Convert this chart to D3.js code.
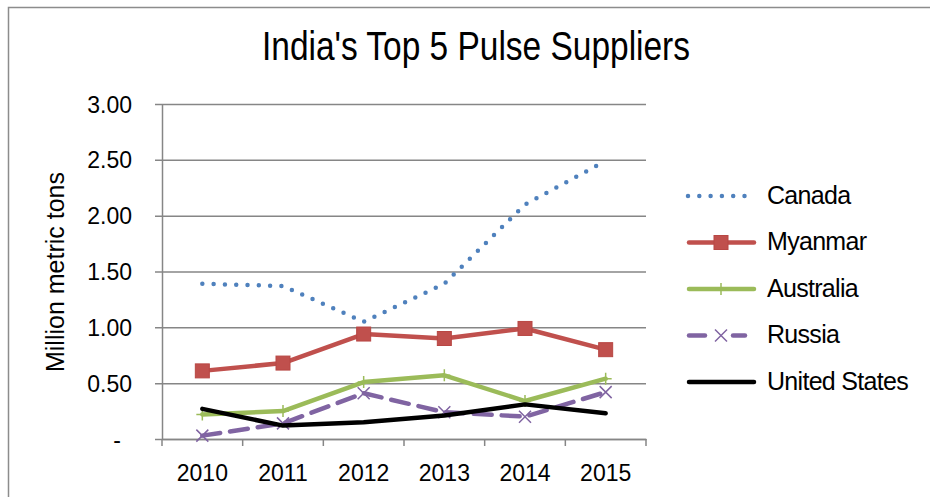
<!DOCTYPE html>
<html><head><meta charset="utf-8">
<script src="https://cdn.jsdelivr.net/npm/d3@7"></script>
<style>
html,body{margin:0;padding:0;background:#fff;}
svg{display:block;font-family:"Liberation Sans",Arial,sans-serif;}
</style></head>
<body>
<svg id="chart" width="930" height="497"></svg>
<script>
const years = ["2010","2011","2012","2013","2014","2015"];
const yTicks = [0, 0.5, 1, 1.5, 2, 2.5, 3];
const seriesNames = ["Canada","Myanmar","Australia","Russia","United States"];
const canada = [1.39, 1.37, 1.05, 1.39, 2.10, 2.49];
const myanmar = [0.61, 0.68, 0.94, 0.90, 0.99, 0.80];
const australia = [0.22, 0.25, 0.51, 0.57, 0.34, 0.54];
const russia = [0.03, 0.14, 0.41, 0.24, 0.20, 0.42];
const unitedStates = [0.27, 0.12, 0.15, 0.21, 0.31, 0.23];
const seriesColors = ["#4F81BD","#C0504D","#9BBB59","#8064A2","#000000"];

const series = [
  {name: seriesNames[0], values: canada, color: seriesColors[0], dash: "0 11.3", marker: null},
  {name: seriesNames[1], values: myanmar, color: seriesColors[1], dash: null, marker: "square"},
  {name: seriesNames[2], values: australia, color: seriesColors[2], dash: null, marker: "plus"},
  {name: seriesNames[3], values: russia, color: seriesColors[3], dash: "18 10", marker: "x"},
  {name: seriesNames[4], values: unitedStates, color: seriesColors[4], dash: null, marker: null}
];

const svg = d3.select("#chart");
// chart border
svg.append("path").attr("d","M8.5,497 L8.5,7.5 L930,7.5").attr("fill","none").attr("stroke","#8c8c8c").attr("stroke-width",1.5);

const pLeft = 162, pRight = 646, pTop = 104, pBottom = 439;
const x = d3.scaleBand().domain(years).range([pLeft, pRight]);
const y = d3.scaleLinear().domain([0, 3]).range([pBottom, pTop]);

// title
svg.append("text").attr("x", 476).attr("y", 60).attr("text-anchor","middle")
  .attr("font-size", 40).attr("textLength", 428).attr("lengthAdjust","spacingAndGlyphs")
  .attr("fill","#000").text("India's Top 5 Pulse Suppliers");

// gridlines + y axis
const yAxis = d3.axisLeft(y).tickValues(yTicks).tickSize(-(pRight - pLeft)).tickSizeOuter(0)
  .tickFormat(d => d === 0 ? "-" : d3.format(".2f")(d));
const gy = svg.append("g").attr("transform", `translate(${pLeft},0)`).call(yAxis);
gy.select(".domain").attr("stroke","#868686").attr("stroke-width",1.5);
gy.selectAll(".tick line").attr("stroke","#868686").attr("stroke-width",1.5).attr("x1",-7);
gy.selectAll(".tick text").attr("font-size",23).attr("fill","#000").attr("font-family","Liberation Sans, Arial, sans-serif")
  .attr("x", d => d === 0 ? -41 : -30).attr("dy","0.35em");

// x axis
const xAxis = d3.axisBottom(x).tickSize(0).tickSizeOuter(0);
const gx = svg.append("g").attr("transform", `translate(0,${pBottom})`).call(xAxis);
gx.select(".domain").attr("stroke","#868686").attr("stroke-width",1.5);
gx.selectAll(".tick text").attr("font-size",23).attr("fill","#000").attr("font-family","Liberation Sans, Arial, sans-serif").attr("y",26).attr("dy","0.71em");
// boundary ticks
const bounds = years.map(d => x(d)).concat([x(years[years.length-1]) + x.bandwidth()]);
gx.selectAll("line.bt").data(bounds).enter().append("line").attr("class","bt")
  .attr("x1", d => d).attr("x2", d => d).attr("y1", 0).attr("y2", 7)
  .attr("stroke","#868686").attr("stroke-width",1.5);

// y axis title
svg.append("text").attr("transform","translate(64,272) rotate(-90)").attr("text-anchor","middle")
  .attr("font-size",25).attr("fill","#000").text("Million metric tons");

const cx = d => x(d) + x.bandwidth()/2;
const line = d3.line().x((d,i) => cx(years[i])).y(d => y(d));

function drawMarker(g, type, color, px, py) {
  if (type === "square") {
    g.append("rect").attr("x", px-7).attr("y", py-7).attr("width",14).attr("height",14)
      .attr("fill", color).attr("stroke","#b84744").attr("stroke-width",1);
  } else if (type === "plus") {
    g.append("path").attr("d", `M${px-6},${py} L${px+6},${py} M${px},${py-6} L${px},${py+6}`)
      .attr("stroke", color).attr("stroke-width",1.5).attr("fill","none");
  } else if (type === "x") {
    g.append("path").attr("d", `M${px-6},${py-6} L${px+6},${py+6} M${px+6},${py-6} L${px-6},${py+6}`)
      .attr("stroke", color).attr("stroke-width",1.5).attr("fill","none");
  }
}

series.forEach(s => {
  const g = svg.append("g");
  g.append("path").datum(s.values).attr("d", line).attr("fill","none")
    .attr("stroke", s.color).attr("stroke-width", 4.5)
    .attr("stroke-linecap","round").attr("stroke-linejoin","round")
    .attr("stroke-dasharray", s.dash);
  if (s.marker) s.values.forEach((v,i) => drawMarker(g, s.marker, s.color, cx(years[i]), y(v)));
});

// legend
const legY = d3.scalePoint().domain(seriesNames).range([196, 382]);
series.forEach(s => {
  const ly = legY(s.name);
  const g = svg.append("g");
  if (s.dash === "0 11.3") {
    g.append("line").attr("x1",688).attr("x2",746).attr("y1",ly).attr("y2",ly)
      .attr("stroke", s.color).attr("stroke-width",4.5).attr("stroke-linecap","round").attr("stroke-dasharray", s.dash);
  } else if (s.marker === "x") {
    g.append("line").attr("x1",689).attr("x2",705).attr("y1",ly).attr("y2",ly)
      .attr("stroke", s.color).attr("stroke-width",4.5).attr("stroke-linecap","round");
    g.append("line").attr("x1",733).attr("x2",745).attr("y1",ly).attr("y2",ly)
      .attr("stroke", s.color).attr("stroke-width",4.5).attr("stroke-linecap","round");
    drawMarker(g, "x", s.color, 721, ly);
  } else {
    g.append("line").attr("x1",689).attr("x2",754).attr("y1",ly).attr("y2",ly)
      .attr("stroke", s.color).attr("stroke-width",4.5).attr("stroke-linecap","round");
    if (s.marker) drawMarker(g, s.marker, s.color, 721, ly);
  }
  g.append("text").attr("x",767).attr("y",ly+7.5).attr("font-size",25).attr("letter-spacing","-0.7px")
    .attr("fill","#000").text(s.name);
});
</script>
</body></html>
